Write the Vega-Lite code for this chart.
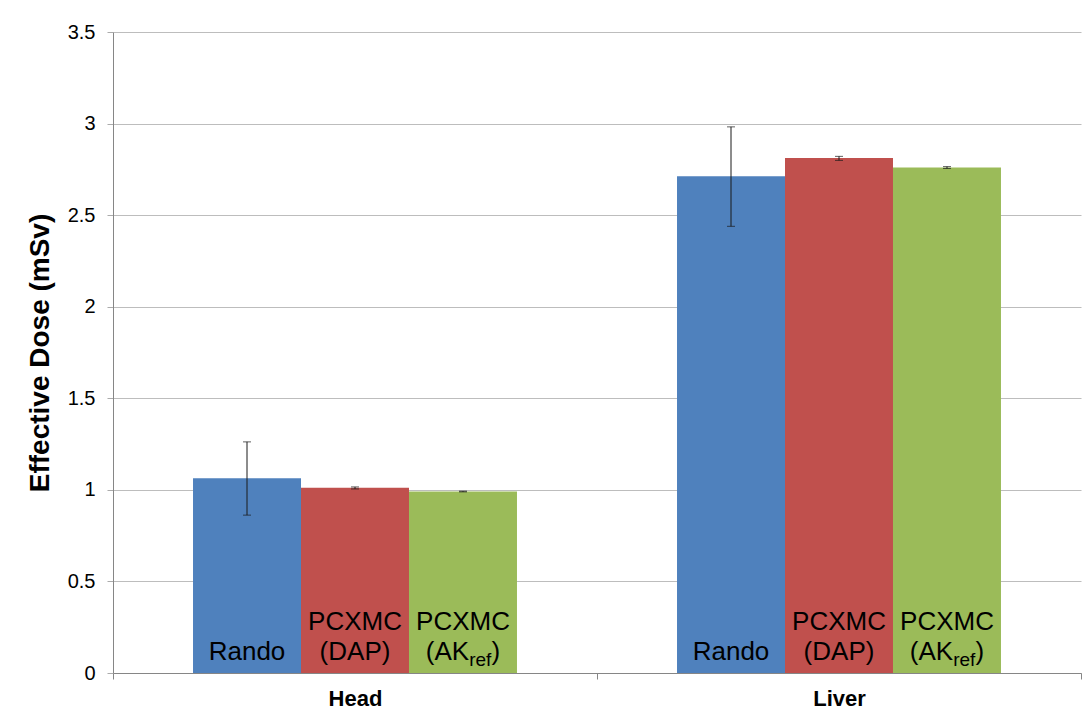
{
  "$schema": "https://vega.github.io/schema/vega-lite/v6.json",
  "width": 968,
  "height": 641,
  "autosize": {"type": "none"},
  "padding": {"left": 113, "top": 32, "right": 5, "bottom": 45},
  "background": "white",
  "config": {
    "view": {"stroke": null},
    "font": "Liberation Sans"
  },
  "data": {
    "values": [
      {"organ": "Head", "method": "Rando", "value": 1.064, "lo": 0.862, "hi": 1.262, "line1": "", "line2": "Rando"},
      {"organ": "Head", "method": "PCXMC (DAP)", "value": 1.011, "lo": 1.005, "hi": 1.016, "line1": "PCXMC", "line2": "(DAP)"},
      {"organ": "Head", "method": "PCXMC (AKref)", "value": 0.991, "lo": 0.989, "hi": 0.993, "line1": "PCXMC", "line2": ""},
      {"organ": "Liver", "method": "Rando", "value": 2.713, "lo": 2.439, "hi": 2.982, "line1": "", "line2": "Rando"},
      {"organ": "Liver", "method": "PCXMC (DAP)", "value": 2.812, "lo": 2.799, "hi": 2.821, "line1": "PCXMC", "line2": "(DAP)"},
      {"organ": "Liver", "method": "PCXMC (AKref)", "value": 2.760, "lo": 2.755, "hi": 2.765, "line1": "PCXMC", "line2": ""}
    ]
  },
  "encoding": {
    "x": {
      "field": "organ",
      "type": "nominal",
      "sort": ["Head", "Liver"],
      "scale": {"paddingInner": 0, "paddingOuter": 0},
      "axis": {
        "title": null,
        "labelAngle": 0,
        "labelFont": "Liberation Sans",
        "labelFontSize": 22,
        "labelFontWeight": "bold",
        "labelColor": "black",
        "labelPadding": 9,
        "tickBand": "extent",
        "tickSize": 6,
        "tickColor": "#868686",
        "domainColor": "#868686",
        "grid": false
      }
    },
    "xOffset": {
      "field": "method",
      "type": "nominal",
      "sort": ["Rando", "PCXMC (DAP)", "PCXMC (AKref)"],
      "scale": {"paddingInner": 0, "paddingOuter": 0.741}
    }
  },
  "layer": [
    {
      "mark": {"type": "bar"},
      "encoding": {
        "y": {
          "field": "value",
          "type": "quantitative",
          "scale": {"domain": [0, 3.5], "nice": false, "zero": true},
          "axis": {
            "title": "Effective Dose (mSv)",
            "titleFont": "Liberation Sans",
            "titleFontSize": 28,
            "titleFontWeight": "bold",
            "titleColor": "black",
            "titlePadding": 13,
            "values": [0, 0.5, 1, 1.5, 2, 2.5, 3, 3.5],
            "format": "~g",
            "labelFont": "Liberation Sans",
            "labelFontSize": 20,
            "labelColor": "black",
            "labelPadding": 12,
            "tickSize": 6,
            "tickColor": "#ABABAB",
            "domainColor": "#868686",
            "gridColor": "#BDBDBD",
            "gridWidth": 1
          }
        },
        "color": {
          "field": "method",
          "type": "nominal",
          "scale": {
            "domain": ["Rando", "PCXMC (DAP)", "PCXMC (AKref)"],
            "range": ["#4F81BD", "#C0504D", "#9BBB59"]
          },
          "legend": null
        }
      }
    },
    {
      "mark": {"type": "rule", "color": "#1a1a1a", "strokeWidth": 1},
      "encoding": {
        "y": {"field": "lo", "type": "quantitative"},
        "y2": {"field": "hi"}
      }
    },
    {
      "mark": {"type": "tick", "color": "#1a1a1a", "size": 8, "thickness": 1, "orient": "horizontal"},
      "encoding": {
        "y": {"field": "lo", "type": "quantitative"}
      }
    },
    {
      "mark": {"type": "tick", "color": "#1a1a1a", "size": 8, "thickness": 1, "orient": "horizontal"},
      "encoding": {
        "y": {"field": "hi", "type": "quantitative"}
      }
    },
    {
      "mark": {"type": "text", "fontSize": 26, "font": "Liberation Sans", "color": "black", "baseline": "alphabetic", "align": "center", "dy": -42.6},
      "encoding": {
        "y": {"datum": 0, "type": "quantitative"},
        "text": {"field": "line1"}
      }
    },
    {
      "mark": {"type": "text", "fontSize": 26, "font": "Liberation Sans", "color": "black", "baseline": "alphabetic", "align": "center", "dy": -12.6},
      "encoding": {
        "y": {"datum": 0, "type": "quantitative"},
        "text": {"field": "line2"}
      }
    },
    {
      "transform": [{"filter": "datum.method === 'PCXMC (AKref)'"}, {"calculate": "'(AK'", "as": "t"}],
      "mark": {"type": "text", "fontSize": 26, "font": "Liberation Sans", "color": "black", "baseline": "alphabetic", "align": "right", "dx": 6.2, "dy": -12.6},
      "encoding": {
        "y": {"datum": 0, "type": "quantitative"},
        "text": {"field": "t"}
      }
    },
    {
      "transform": [{"filter": "datum.method === 'PCXMC (AKref)'"}, {"calculate": "'ref'", "as": "t"}],
      "mark": {"type": "text", "fontSize": 19, "font": "Liberation Sans", "color": "black", "baseline": "alphabetic", "align": "left", "dx": 6.2, "dy": -7.2},
      "encoding": {
        "y": {"datum": 0, "type": "quantitative"},
        "text": {"field": "t"}
      }
    },
    {
      "transform": [{"filter": "datum.method === 'PCXMC (AKref)'"}, {"calculate": "')'", "as": "t"}],
      "mark": {"type": "text", "fontSize": 26, "font": "Liberation Sans", "color": "black", "baseline": "alphabetic", "align": "left", "dx": 28.4, "dy": -12.6},
      "encoding": {
        "y": {"datum": 0, "type": "quantitative"},
        "text": {"field": "t"}
      }
    }
  ]
}
